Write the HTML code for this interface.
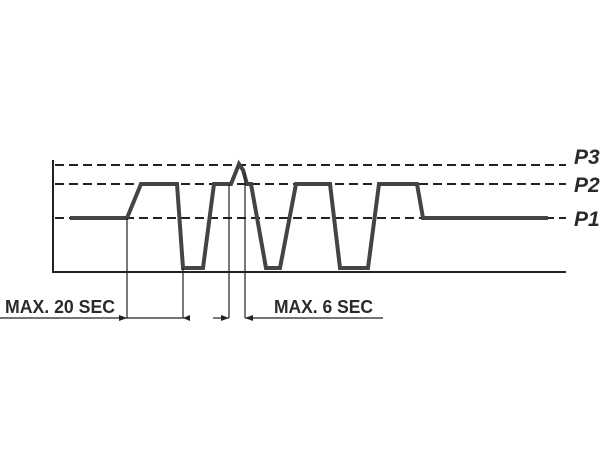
<!DOCTYPE html>
<html><head><style>body{margin:0;background:#fff}svg{display:block}</style></head><body>
<svg width="600" height="465" xmlns="http://www.w3.org/2000/svg">
<g stroke="#222" stroke-width="2" stroke-dasharray="9,5" fill="none">
<line x1="55" y1="165" x2="566" y2="165"/>
<line x1="55" y1="184" x2="566" y2="184"/>
<line x1="55" y1="218" x2="566" y2="218"/>
</g>
<path d="M53,160 V272 H566" stroke="#222" stroke-width="2" fill="none"/>
<polyline points="70,218 127,218 141,184 177,184 183,268 203,268 214,184 231,184 239,164 243,170 247,184 251,184 266,268 280,268 296,184 330,184 340,268 368,268 379,184 417,184 423,218 548,218" stroke="#444" stroke-width="4" fill="none" stroke-linejoin="miter"/>
<g stroke="#222" stroke-width="1.2">
<line x1="127" y1="218" x2="127" y2="318"/>
<line x1="183" y1="268" x2="183" y2="318"/>
<line x1="229" y1="184" x2="229" y2="318"/>
<line x1="245" y1="172" x2="245" y2="318"/>
<line x1="0" y1="318" x2="127" y2="318"/>
<line x1="127" y1="318" x2="190" y2="318"/>
<line x1="213" y1="318" x2="229" y2="318"/>
<line x1="245" y1="318" x2="383" y2="318"/>
</g>
<g fill="#222">
<polygon points="127,318 119,315 119,321"/>
<polygon points="183,318 190,315 190,321"/>
<polygon points="229,318 221,315 221,321"/>
<polygon points="245,318 253,315 253,321"/>
</g>
<g font-family="Liberation Sans, sans-serif" font-weight="bold" fill="#2a2a2a">
<text x="5" y="313" font-size="18" textLength="110" lengthAdjust="spacingAndGlyphs">MAX. 20 SEC</text>
<text x="274" y="313" font-size="18" textLength="99" lengthAdjust="spacingAndGlyphs">MAX. 6 SEC</text>
<g font-style="italic" font-size="21">
<text x="574" y="164">P3</text>
<text x="574" y="192">P2</text>
<text x="574" y="226">P1</text>
</g>
</g>
</svg>
</body></html>
